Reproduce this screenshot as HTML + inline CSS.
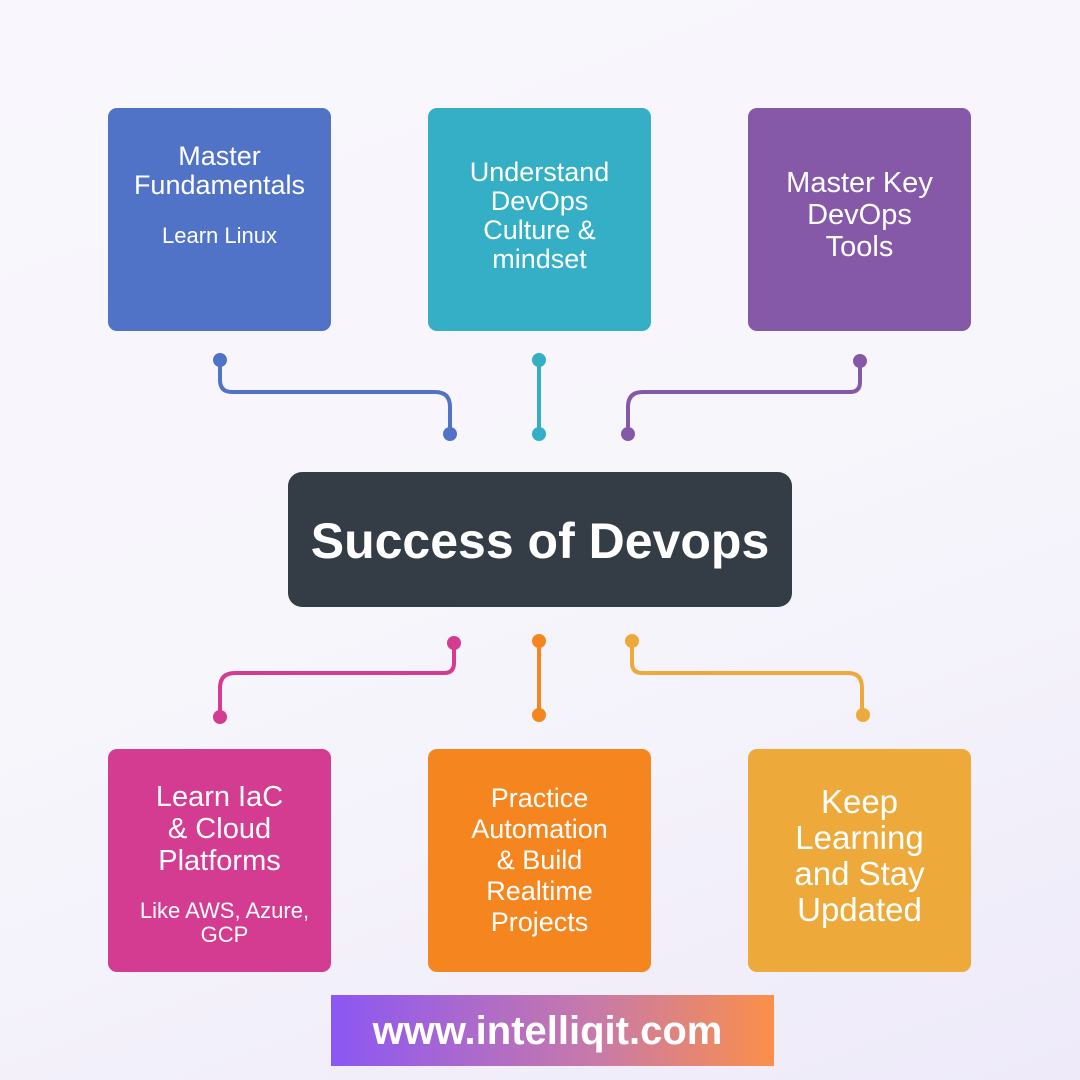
<!DOCTYPE html>
<html><head><style>
body{margin:0;width:1080px;height:1080px;overflow:hidden;background:linear-gradient(160deg,#f9f7fd 0%,#f7f6fb 50%,#eeeafa 100%);font-family:"Liberation Sans",sans-serif;position:relative}
.b{position:absolute;width:223px;height:223px;border-radius:9px;color:#fff;text-align:center;box-sizing:border-box;display:flex;flex-direction:column;align-items:center}
.t{font-size:27px;line-height:30px}
.s{font-size:22px;line-height:24px;margin-top:14px}
</style></head><body>
<div class="b" style="left:108px;top:108px;background:#5073c8;padding-top:34px"><div class="t" style="line-height:29px">Master<br>Fundamentals</div><div class="s" style="margin-top:24px">Learn Linux</div></div>
<div class="b" style="left:428px;top:108px;background:#35afc5;padding-top:50px"><div class="t" style="line-height:29px">Understand<br>DevOps<br>Culture &amp;<br>mindset</div></div>
<div class="b" style="left:748px;top:108px;background:#8559a8;padding-top:59px"><div class="t" style="font-size:29px;line-height:32px">Master Key<br>DevOps<br>Tools</div></div>
<div style="position:absolute;left:288px;top:472px;width:504px;height:135px;border-radius:14px;background:#343d46;color:#fff;font-weight:bold;font-size:50px;line-height:138px;text-align:center">Success of Devops</div>
<div class="b" style="left:108px;top:749px;background:#d33c91;padding-top:32px"><div class="t" style="font-size:29px;line-height:32px">Learn IaC<br>&amp; Cloud<br>Platforms</div><div class="s" style="margin-top:22px;padding-left:10px">Like AWS, Azure,<br>GCP</div></div>
<div class="b" style="left:428px;top:749px;background:#f5861f;padding-top:34px"><div class="t" style="line-height:31px">Practice<br>Automation<br>&amp; Build<br>Realtime<br>Projects</div></div>
<div class="b" style="left:748px;top:749px;background:#eda93a;padding-top:35px"><div class="t" style="font-size:33px;line-height:36px">Keep<br>Learning<br>and Stay<br>Updated</div></div>
<div style="position:absolute;left:331px;top:995px;width:443px;height:71px;background:linear-gradient(90deg,#8b57f4,#c87aa8 60%,#fb8f4a);color:#fff;font-weight:bold;font-size:40px;line-height:73px;text-align:center;text-indent:-10px">www.intelliqit.com</div>
<svg width="1080" height="1080" style="position:absolute;left:0;top:0" fill="none" stroke-width="4">
<g stroke="#5073c8"><path d="M220 360V380Q220 392 232 392H435Q450 392 450 407V434"/></g>
<g fill="#5073c8"><circle cx="220" cy="360" r="7"/><circle cx="450" cy="434" r="7"/></g>
<path d="M539 360V434" stroke="#35afc5"/>
<g fill="#35afc5"><circle cx="539" cy="360" r="7"/><circle cx="539" cy="434" r="7"/></g>
<path d="M860 361V382Q860 392 850 392H643Q628 392 628 407V434" stroke="#8559a8"/>
<g fill="#8559a8"><circle cx="860" cy="361" r="7"/><circle cx="628" cy="434" r="7"/></g>
<path d="M454 643V663Q454 673 444 673H235Q220 673 220 688V717" stroke="#d33c91"/>
<g fill="#d33c91"><circle cx="454" cy="643" r="7"/><circle cx="220" cy="717" r="7"/></g>
<path d="M539 641V715" stroke="#f5861f"/>
<g fill="#f5861f"><circle cx="539" cy="641" r="7"/><circle cx="539" cy="715" r="7"/></g>
<path d="M632 641V663Q632 673 642 673H848Q862 673 862 688V715" stroke="#eda93a"/>
<g fill="#eda93a"><circle cx="632" cy="641" r="7"/><circle cx="863" cy="715" r="7"/></g>
</svg>
</body></html>
